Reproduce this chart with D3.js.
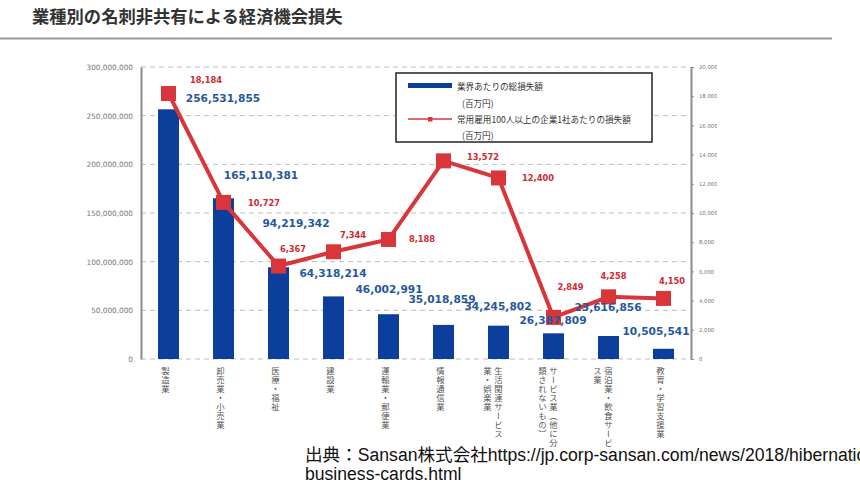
<!DOCTYPE html>
<html><head><meta charset="utf-8">
<script src="https://cdn.jsdelivr.net/npm/d3@7"></script>
<style>body{margin:0;background:#fff;} svg{display:block}</style>
</head><body><svg id="c" width="860" height="483"></svg>
<script>
const title = "業種別の名刺非共有による経済機会損失";
const categories = ["製造業","卸売業・小売業","医療・福祉","建設業","運輸業・郵便業","情報通信業","生活関連サービス業・娯楽業","サービス業（他に分類されないもの）","宿泊業・飲食サービス業","教育・学習支援業"];
const categoryColumns = [["製造業"],["卸売業・小売業"],["医療・福祉"],["建設業"],["運輸業・郵便業"],["情報通信業"],["生活関連サービス","業・娯楽業"],["サービス業（他に分","類されないもの）"],["宿泊業・飲食サービ","ス業"],["教育・学習支援業"]];
const totalLoss = [256531855,165110381,94219342,64318214,46002991,35018859,34245802,26387809,23616856,10505541];
const perCompanyLoss = [18184,10727,6367,7344,8188,13572,12400,2849,4258,4150];
const leftTicks = [0,50000000,100000000,150000000,200000000,250000000,300000000];
const rightTicks = [0,2000,4000,6000,8000,10000,12000,14000,16000,18000,20000];
const legendLabels = ["業界あたりの総損失額","(百万円)","常用雇用100人以上の企業1社あたりの損失額","(百万円)"];
const sourceLines = ["出典：Sansan株式会社https://jp.corp-sansan.com/news/2018/hibernation-","business-cards.html"];

// label nudges (offsets from the mark they annotate)
const barLabelNudge = [[54.5,-11],[37.5,-23],[17.5,-44],[-0.5,-23],[0.5,-25],[-1.5,-26],[-0.5,-20],[-0.5,-13],[-0.5,-29],[-7.5,-18]];
const lineLabelNudge = [[37.5,-13.5],[40.5,0.5],[14.5,-17],[19.5,-17],[33.5,0],[39.5,-4],[39.5,0],[17,-30],[5,-21],[8.5,-17]];

const svg = d3.select("#c");
const fmt = d3.format(",");
const BLUE = "#0b3f9b", BLUE_T = "#26579d", RED = "#d8363b", RED_T = "#d02a32";

// Title + rule
svg.append("text").attr("x",32).attr("y",23).text(title)
  .attr("font-family","'Noto Sans CJK JP'").attr("font-weight","bold").attr("font-size",17.3).attr("fill","#333");
svg.append("line").attr("x1",0).attr("x2",832).attr("y1",38.5).attr("y2",38.5).attr("stroke","#9a9a9a").attr("stroke-width",2);

const pLeft = 141, pRight = 691, pTop = 67, pBottom = 359;
const x = d3.scaleBand().domain(categories).range([pLeft,pRight]).padding(0);
const yL = d3.scaleLinear().domain([0,300000000]).range([pBottom,pTop]);
const yR = d3.scaleLinear().domain([0,20000]).range([pBottom,pTop]);
const bw = x.bandwidth();
const cx = c => x(c) + bw/2;

// gridlines
svg.append("g").selectAll("line").data(leftTicks).join("line")
  .attr("x1",pLeft).attr("x2",pRight).attr("y1",d=>yL(d)).attr("y2",d=>yL(d))
  .attr("stroke","#bdbdbd").attr("stroke-width",1).attr("stroke-dasharray","5,4");

// bars
svg.append("g").selectAll("rect").data(categories).join("rect")
  .attr("x",c=>cx(c)-10.5).attr("width",21)
  .attr("y",(c,i)=>yL(totalLoss[i])).attr("height",(c,i)=>pBottom-yL(totalLoss[i]))
  .attr("fill",BLUE);

// axes
const gl = svg.append("g").attr("transform",`translate(${pLeft},0)`)
  .call(d3.axisLeft(yL).tickValues(leftTicks).tickFormat(fmt).tickSize(0).tickPadding(8));
gl.select(".domain").attr("stroke","#8c8c8c").attr("stroke-width",2);
gl.selectAll("text").attr("font-family","'DejaVu Sans'").attr("font-size",7.3).attr("fill","#777");

svg.append("defs").append("clipPath").attr("id","clipR").append("rect").attr("x",0).attr("y",0).attr("width",717).attr("height",483);
const grAxis = svg.append("g").attr("clip-path","url(#clipR)").append("g").attr("transform",`translate(${pRight},0)`)
  .call(d3.axisRight(yR).tickValues(rightTicks).tickFormat(fmt).tickSize(3).tickSizeOuter(0).tickPadding(5));
grAxis.select(".domain").attr("stroke","#8c8c8c").attr("stroke-width",2);
grAxis.selectAll(".tick line").attr("stroke","#8c8c8c");
grAxis.selectAll("text").attr("font-family","'DejaVu Sans'").attr("font-size",5.3).attr("fill","#777");

// line
const line = d3.line().x((d,i)=>cx(categories[i])).y(d=>yR(d));
svg.append("path").datum(perCompanyLoss).attr("d",line).attr("fill","none").attr("stroke",RED).attr("stroke-width",4).attr("stroke-linejoin","round");
svg.append("g").selectAll("rect").data(perCompanyLoss).join("rect")
  .attr("x",(d,i)=>cx(categories[i])-7.5).attr("y",d=>yR(d)-7.5).attr("width",15).attr("height",15).attr("fill",RED);

// bar labels
svg.append("g").selectAll("text").data(totalLoss).join("text")
  .attr("x",(d,i)=>cx(categories[i])+barLabelNudge[i][0])
  .attr("y",(d,i)=>yL(d)+barLabelNudge[i][1])
  .attr("text-anchor","middle").attr("dominant-baseline","central")
  .attr("font-family","'DejaVu Sans'").attr("font-weight","bold").attr("font-size",10.6).attr("fill",BLUE_T)
  .text(d=>fmt(d));

// line labels
svg.append("g").selectAll("text").data(perCompanyLoss).join("text")
  .attr("x",(d,i)=>cx(categories[i])+lineLabelNudge[i][0])
  .attr("y",(d,i)=>yR(d)+lineLabelNudge[i][1])
  .attr("text-anchor","middle").attr("dominant-baseline","central")
  .attr("font-family","'DejaVu Sans'").attr("font-weight","bold").attr("font-size",8.3).attr("fill",RED_T)
  .text(d=>fmt(d));

// category labels (vertical)
const gc = svg.append("g");
categoryColumns.forEach((cols,i)=>{
  const c = cx(categories[i]);
  cols.forEach((t,j)=>{
    const xx = cols.length===1 ? c-3 : (j===0 ? c : c-11);
    gc.append("text").attr("x",xx).attr("y",367)
      .style("writing-mode","vertical-rl").attr("letter-spacing",0.6)
      .attr("font-family","'Noto Sans CJK JP'").attr("font-size",8.4).attr("fill","#555").text(t);
  });
});

// legend
const lg = svg.append("g");
lg.append("rect").attr("x",396).attr("y",73).attr("width",256).attr("height",69).attr("fill","#fff").attr("stroke","#222").attr("stroke-width",1.5);
lg.append("rect").attr("x",408).attr("y",83).attr("width",44).attr("height",5).attr("fill",BLUE);
lg.append("line").attr("x1",408).attr("x2",452).attr("y1",119).attr("y2",119).attr("stroke",RED).attr("stroke-width",1.5);
lg.append("rect").attr("x",428).attr("y",117).attr("width",4.5).attr("height",4.5).attr("fill",RED);
const legPos = [[457,86],[462,103],[457,119],[462,135]];
lg.selectAll("text").data(legendLabels).join("text")
  .attr("x",(d,i)=>legPos[i][0]).attr("y",(d,i)=>legPos[i][1]).attr("dominant-baseline","central")
  .attr("font-family","'Noto Sans CJK JP'").attr("font-size",8.6).attr("fill","#333").text(d=>d);

// source
svg.append("g").selectAll("text").data(sourceLines).join("text")
  .attr("x",305).attr("y",(d,i)=>461+i*19)
  .attr("font-family","'Liberation Sans','Noto Sans CJK JP'").attr("font-size",17.6).attr("fill","#111").text(d=>d);
</script></body></html>
